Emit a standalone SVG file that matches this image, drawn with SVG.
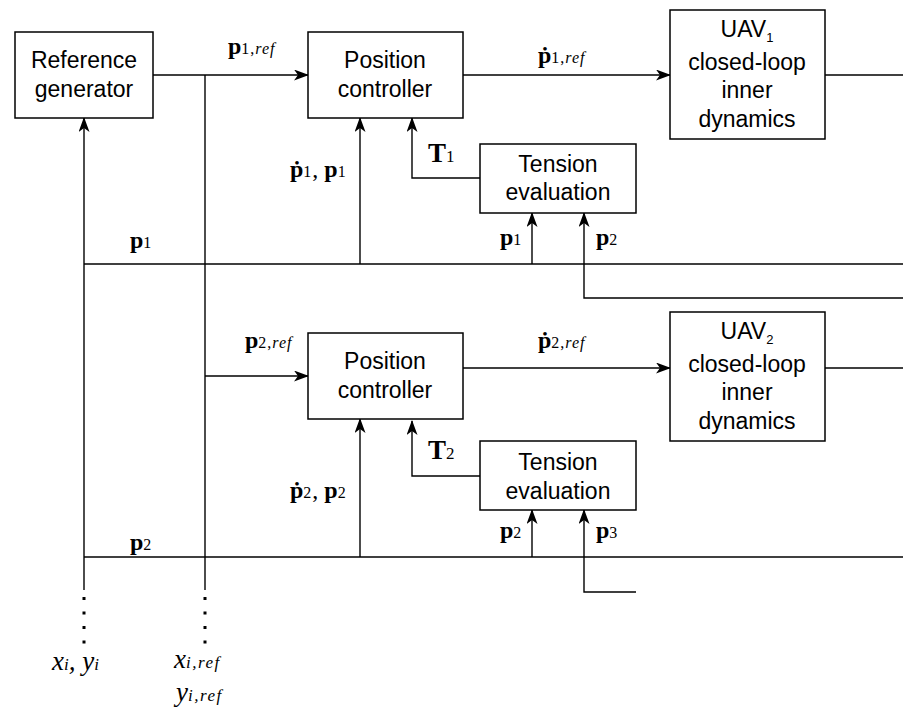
<svg xmlns="http://www.w3.org/2000/svg" width="903" height="713" viewBox="0 0 903 713">
<defs>
<marker id="arr" viewBox="0 0 15 11" refX="14" refY="5.5" markerWidth="15" markerHeight="11" markerUnits="userSpaceOnUse" orient="auto">
<path d="M0,0 L15,5.5 L0,11 L4,5.5 Z" fill="#000"/>
</marker>
</defs>
<style>
.box{fill:#fff;stroke:#000;stroke-width:1.5}
.t{font-family:"Liberation Sans",Arial,sans-serif;font-size:23px;text-anchor:middle;fill:#000}
.ln{fill:none;stroke:#000;stroke-width:1.4}
.ar{fill:none;stroke:#000;stroke-width:1.4;marker-end:url(#arr)}
.dots{stroke:#000;stroke-width:3;stroke-dasharray:3,11.5}
.m{font-family:"Liberation Serif","Times New Roman",serif;font-size:24px;fill:#000}
.big{font-size:27px}
.xy{font-size:27px;font-style:italic}
.b{font-weight:bold}
.s{font-size:16px;letter-spacing:1px}
.i{font-style:italic}
</style>
<g id="connectors">
<path class="ar" d="M153,75 H308"/>
<path class="ln" d="M205,75 V590"/>
<path class="ar" d="M84,590 V118"/>
<path class="ln" d="M84,264 H903"/>
<path class="ar" d="M360,264 V118"/>
<path class="ar" d="M532,264 V213"/>
<path class="ar" d="M480,178 H412 V118"/>
<path class="ar" d="M903,298 H584 V213"/>
<path class="ar" d="M463,75 H670"/>
<path class="ln" d="M825,75 H903"/>
<path class="ar" d="M205,376 H308"/>
<path class="ar" d="M463,368 H670"/>
<path class="ln" d="M825,368 H903"/>
<path class="ln" d="M84,557 H903"/>
<path class="ar" d="M360,557 V419"/>
<path class="ar" d="M532,557 V510"/>
<path class="ar" d="M480,476 H412 V421"/>
<path class="ar" d="M636,592 H584 V510"/>
<line class="dots" x1="84" y1="597" x2="84" y2="645"/>
<line class="dots" x1="205" y1="597" x2="205" y2="645"/>
</g>
<g id="refgen">
<rect class="box" x="15" y="32" width="138" height="86"/>
<text class="t" x="84" y="68">Reference</text>
<text class="t" x="84" y="97">generator</text>
</g>
<g id="posctrl1">
<rect class="box" x="308" y="32" width="155" height="86"/>
<text class="t" x="385" y="68">Position</text>
<text class="t" x="385" y="97">controller</text>
</g>
<g id="uav1">
<rect class="box" x="670" y="10" width="155" height="129"/>
<text class="t" x="747" y="37">UAV<tspan font-size="13" dy="5">1</tspan></text>
<text class="t" x="747" y="70">closed-loop</text>
<text class="t" x="747" y="98">inner</text>
<text class="t" x="747" y="127">dynamics</text>
</g>
<g id="tension1">
<rect class="box" x="480" y="144" width="156" height="69"/>
<text class="t" x="558" y="172">Tension</text>
<text class="t" x="558" y="200">evaluation</text>
</g>
<g id="posctrl2">
<rect class="box" x="308" y="333" width="155" height="86"/>
<text class="t" x="385" y="369">Position</text>
<text class="t" x="385" y="398">controller</text>
</g>
<g id="uav2">
<rect class="box" x="670" y="312" width="155" height="129"/>
<text class="t" x="747" y="339">UAV<tspan font-size="13" dy="5">2</tspan></text>
<text class="t" x="747" y="372">closed-loop</text>
<text class="t" x="747" y="400">inner</text>
<text class="t" x="747" y="429">dynamics</text>
</g>
<g id="tension2">
<rect class="box" x="480" y="441" width="156" height="69"/>
<text class="t" x="558" y="470">Tension</text>
<text class="t" x="558" y="499">evaluation</text>
</g>
<g id="labels">
<text class="m" x="228" y="54"><tspan class="b">p</tspan><tspan class="s">1,</tspan><tspan class="s i" letter-spacing="2">ref</tspan></text>
<text class="m" x="538" y="63"><tspan class="b">ṗ</tspan><tspan class="s">1,</tspan><tspan class="s i" letter-spacing="2">ref</tspan></text>
<text class="m" x="290" y="177"><tspan class="b">ṗ</tspan><tspan class="s">1</tspan>, <tspan class="b">p</tspan><tspan class="s">1</tspan></text>
<text class="m big" x="428" y="162"><tspan class="b">T</tspan><tspan font-size="17">1</tspan></text>
<text class="m" x="130" y="248"><tspan class="b">p</tspan><tspan class="s">1</tspan></text>
<text class="m" x="500" y="245"><tspan class="b">p</tspan><tspan class="s">1</tspan></text>
<text class="m" x="596" y="245"><tspan class="b">p</tspan><tspan class="s">2</tspan></text>
<text class="m" x="245" y="348"><tspan class="b">p</tspan><tspan class="s">2,</tspan><tspan class="s i" letter-spacing="2">ref</tspan></text>
<text class="m" x="538" y="348"><tspan class="b">ṗ</tspan><tspan class="s">2,</tspan><tspan class="s i" letter-spacing="2">ref</tspan></text>
<text class="m" x="290" y="498"><tspan class="b">ṗ</tspan><tspan class="s">2</tspan>, <tspan class="b">p</tspan><tspan class="s">2</tspan></text>
<text class="m big" x="428" y="459"><tspan class="b">T</tspan><tspan font-size="17">2</tspan></text>
<text class="m" x="130" y="550"><tspan class="b">p</tspan><tspan class="s">2</tspan></text>
<text class="m" x="500" y="538"><tspan class="b">p</tspan><tspan class="s">2</tspan></text>
<text class="m" x="596" y="538"><tspan class="b">p</tspan><tspan class="s">3</tspan></text>
<text class="m xy" x="52" y="670">x<tspan font-size="17">i</tspan>, y<tspan font-size="17">i</tspan></text>
<text class="m xy" x="174" y="668">x<tspan font-size="17" letter-spacing="1.5">i,ref</tspan></text>
<text class="m xy" x="176" y="701">y<tspan font-size="17" letter-spacing="1.5">i,ref</tspan></text>
</g>
</svg>
